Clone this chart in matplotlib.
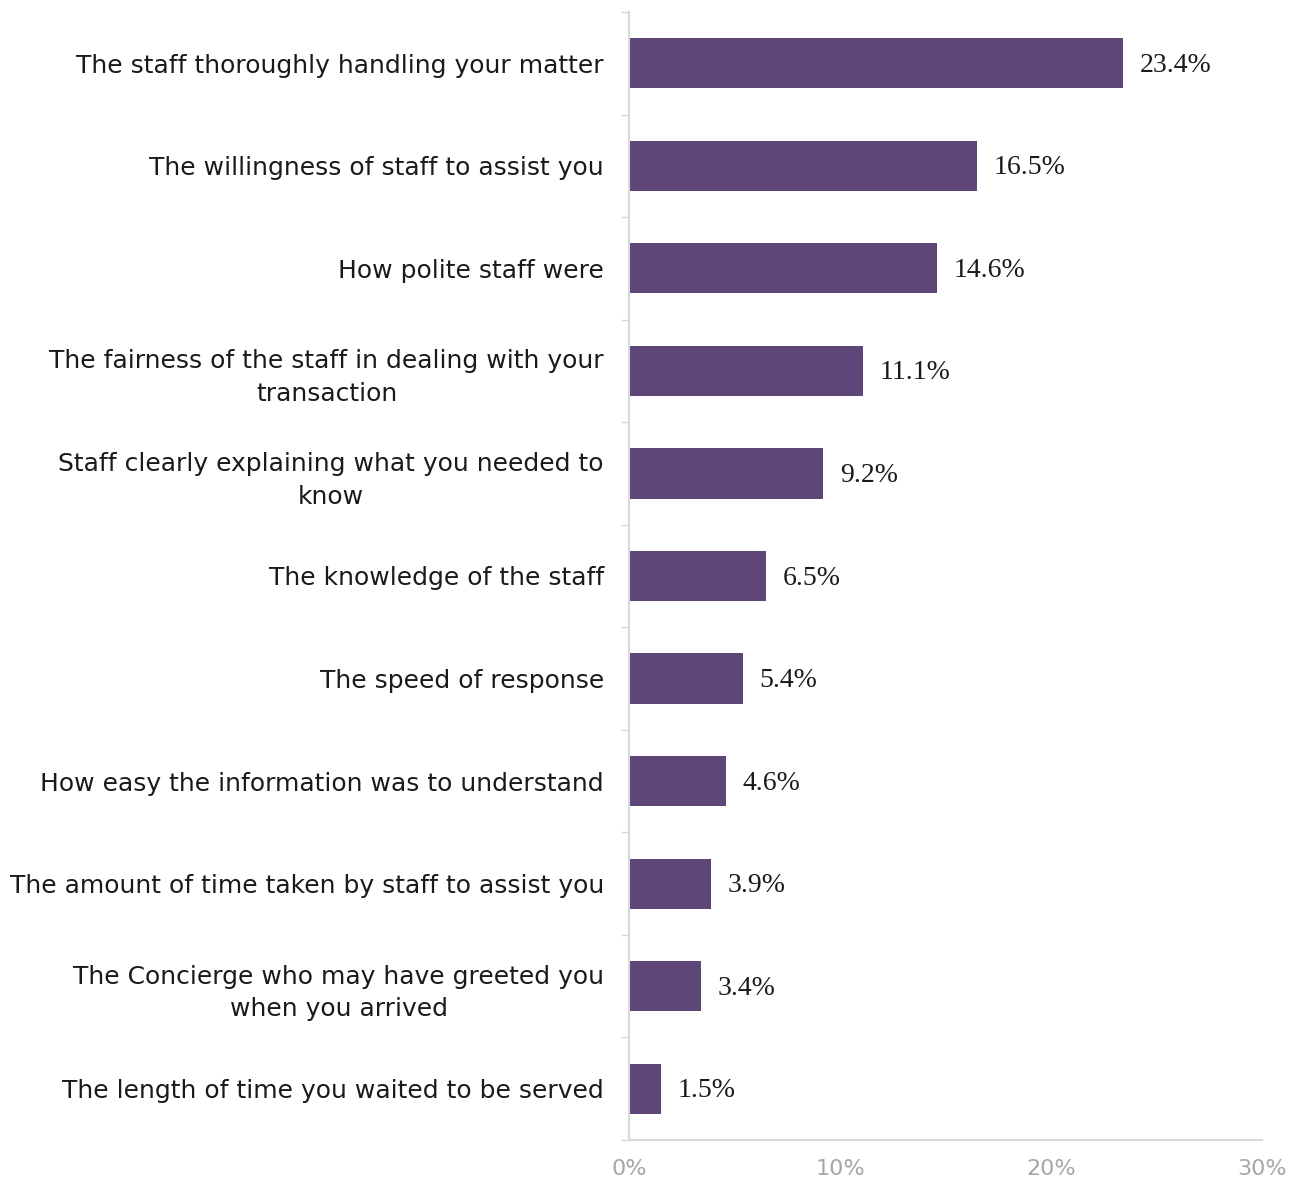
import matplotlib
matplotlib.use("Agg")
import matplotlib.pyplot as plt
import numpy as np

categories = [
    "The staff thoroughly handling your matter",
    "The willingness of staff to assist you",
    "How polite staff were",
    "The fairness of the staff in dealing with your\ntransaction",
    "Staff clearly explaining what you needed to\nknow",
    "The knowledge of the staff",
    "The speed of response",
    "How easy the information was to understand",
    "The amount of time taken by staff to assist you",
    "The Concierge who may have greeted you\nwhen you arrived",
    "The length of time you waited to be served",
]
values = [23.4, 16.5, 14.6, 11.1, 9.2, 6.5, 5.4, 4.6, 3.9, 3.4, 1.5]
xticks = [0, 10, 20, 30]
xtick_labels = ["0%", "10%", "20%", "30%"]

bar_color = "#5E4679"
grid_gray = "#D9D9D9"

fig = plt.figure(figsize=(12.94, 11.82), dpi=100)
ax = fig.add_axes([629/1294, 1 - 1140/1182, (1262-629)/1294, (1140-12)/1182])

y = np.arange(len(categories))
ax.barh(y, values, height=0.49, color=bar_color)
ax.set_ylim(len(categories) - 0.5, -0.5)
ax.set_xlim(0, 30)

for yi, v in zip(y, values):
    ax.annotate(f"{v:.1f}%", (v, yi), xytext=(12, -1.5), textcoords="offset points",
                va="center", ha="left", fontsize=20, family="Liberation Serif", color="#1a1a1a")

ax.set_yticks(y)
ax.set_yticklabels(categories, fontsize=18, family="DejaVu Sans", color="#1a1a1a",
                   multialignment="center", linespacing=1.45)
ax.tick_params(axis="y", which="major", length=0, pad=18)
ax.set_yticks(np.arange(-0.5, len(categories) + 0.5, 1), minor=True)
ax.tick_params(axis="y", which="minor", length=6, color=grid_gray, width=1)

ax.set_xticks(xticks)
ax.set_xticklabels(xtick_labels, fontsize=16, color="#A6A6A6")
ax.tick_params(axis="x", length=0, pad=14)

for s in ["top", "right"]:
    ax.spines[s].set_visible(False)
ax.spines["left"].set_color(grid_gray)
ax.spines["bottom"].set_color(grid_gray)
ax.spines["left"].set_linewidth(1.5)
ax.spines["bottom"].set_linewidth(1.5)

fig.savefig("out.png", dpi=100)
